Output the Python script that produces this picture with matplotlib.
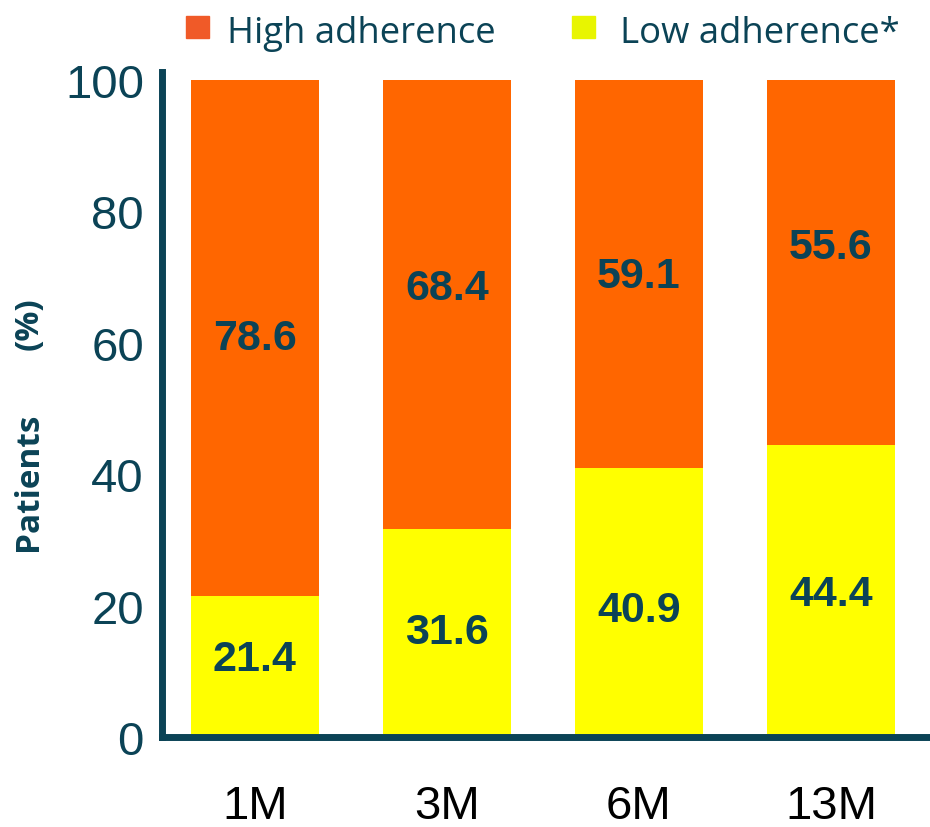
import matplotlib
matplotlib.use("Agg")
import matplotlib.pyplot as plt
from matplotlib.patches import Rectangle

# Adherence at each follow-up visit (% of patients)
timepoints = ["1M", "3M", "6M", "13M"]
low_adherence = [21.4, 31.6, 40.9, 44.4]
high_adherence = [78.6, 68.4, 59.1, 55.6]
series_names = ["High adherence", "Low adherence*"]
y_ticks = [0, 20, 40, 60, 80, 100]

# small vertical nudges (in % units) of the value labels from segment centres
low_label_shift = [1.1, 0.2, -1.15, -0.4]
high_label_shift = [0.0, 2.5, -0.25, 2.4]

TEAL = "#0B4356"
ORANGE = "#FF6600"
YELLOW = "#FFFF00"
LEG_ORANGE = "#F05A28"
LEG_YELLOW = "#E8F500"

W, H = 930, 828
fig = plt.figure(figsize=(W / 100, H / 100), dpi=100)
ax = fig.add_axes([162 / W, 90 / H, (W - 162) / W, (738 - 73) / H])

x = list(range(len(timepoints)))
bw = 0.667
ax.bar(x, low_adherence, width=bw, color=YELLOW, zorder=1)
ax.bar(x, high_adherence, width=bw, bottom=low_adherence, color=ORANGE, zorder=1)

label_font = dict(family=["Liberation Sans", "DejaVu Sans"], fontsize=31,
                  fontweight="bold", color=TEAL, ha="center", va="center")
for xi, lo, hi, dlo, dhi in zip(x, low_adherence, high_adherence,
                                low_label_shift, high_label_shift):
    ax.text(xi, lo / 2 + dlo, f"{lo:.1f}", **label_font)
    ax.text(xi, lo + hi / 2 + dhi, f"{hi:.1f}", **label_font)

ax.set_xlim(-0.484, 3.516)
ax.set_ylim(0, 101.2)
ax.set_yticks(y_ticks)
ax.set_xticks(x)
ax.set_xticklabels(timepoints)

for side in ("top", "right"):
    ax.spines[side].set_visible(False)
for side in ("left", "bottom"):
    ax.spines[side].set_color(TEAL)
    ax.spines[side].set_linewidth(5)
    ax.spines[side].set_capstyle("projecting")
    ax.spines[side].set_zorder(3)

ax.tick_params(axis="y", length=0, pad=13, labelsize=34, labelcolor=TEAL)
ax.tick_params(axis="x", length=0, pad=34, labelsize=34, labelcolor="black")
for lbl in ax.get_xticklabels() + ax.get_yticklabels():
    lbl.set_family(["Liberation Sans", "DejaVu Sans"])

# Axis title, split into two rotated pieces
ylab_font = dict(family=["Open Sans", "DejaVu Sans"], fontsize=24, fontweight="bold",
                 color=TEAL, rotation=90, ha="center", va="center")
fig.text(29 / W, 1 - 482 / H, "Patients", **ylab_font)
fig.text(29 / W, 1 - 324 / H, "(%)", **ylab_font)

# Legend row across the top
leg_font = dict(family=["Open Sans", "DejaVu Sans"], fontsize=26.3, color=TEAL,
                ha="left", va="baseline")
for sx, tx, col, name in [(186, 227, LEG_ORANGE, series_names[0]),
                          (572, 620, LEG_YELLOW, series_names[1])]:
    fig.patches.append(Rectangle((sx / W, 1 - 39 / H), 23 / W, 22 / H,
                                 transform=fig.transFigure, color=col))
    fig.text(tx / W, 1 - 43 / H, name, **leg_font)

fig.savefig("out.png", dpi=100)
